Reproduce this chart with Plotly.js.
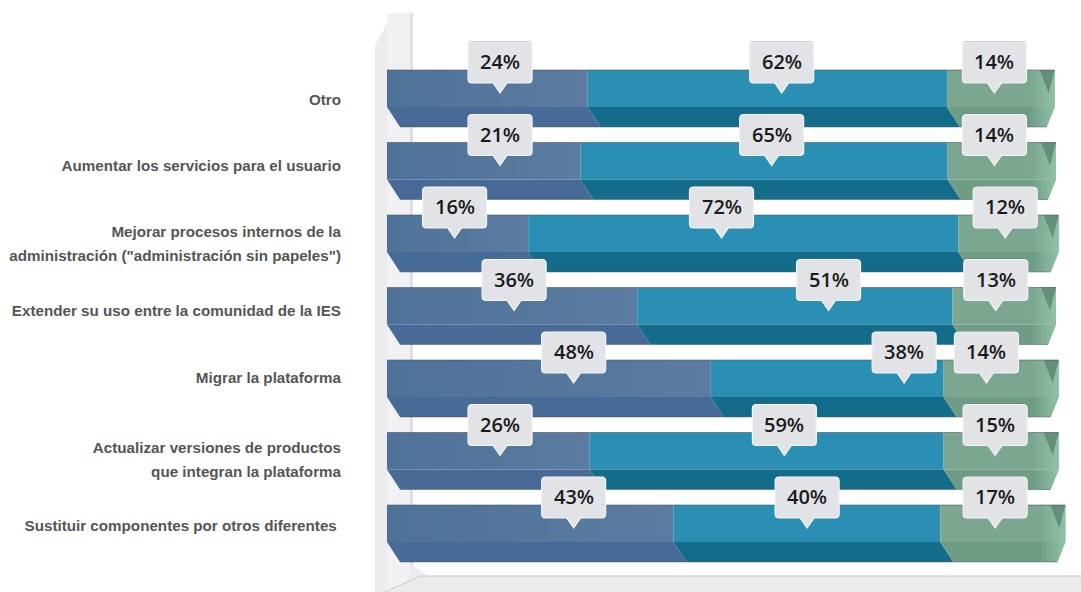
<!DOCTYPE html>
<html><head><meta charset="utf-8">
<script src="https://cdn.plot.ly/plotly-3.0.1.min.js"></script>
<style>html,body{margin:0;padding:0;background:#fff}#c{width:1081px;height:592px}</style></head>
<body><div id="c"></div>
<script>
const labelLines=["Otro","Aumentar los servicios para el usuario","Mejorar procesos internos de la","administración (\"administración sin papeles\")","Extender su uso entre la comunidad de la IES","Migrar la plataforma","Actualizar versiones de productos","que integran la plataforma","Sustituir componentes por otros diferentes\u00a0"];
const labelRows=[0.16,1.06,1.98,2.30,3.07,3.99,4.96,5.29,6.03];
const pctA=[24,21,16,36,48,26,43];
const pctB=[62,65,72,51,38,59,40];
const pctC=[14,14,12,13,14,15,17];
// Drawn lengths as seen in the picture (the original's pseudo-3D bars are not proportional to the labels)
const lenA=[30.0,28.9,21.1,37.4,48.4,30.3,42.8];
const lenB=[53.7,54.9,64.3,47.1,34.8,52.9,39.9];
const lenC=[16.1,16.2,15.0,15.5,17.2,17.2,18.7];
const calloutA=[16.9,16.9,10.1,19.0,27.9,16.9,27.9];
const calloutB=[59.0,57.5,50.0,66.0,77.3,59.4,62.8];
const calloutC=[90.8,90.8,92.4,91.0,89.6,90.9,90.9];

const PX=6.69, RY=72.5;            // pixels per axis unit
const faceH=37/RY, darkH=20/RY, slant=13/PX;
const colA='#4f7299',colB='#2a8fb3',colC='#7ba68f';
const darkA='#476a96',darkB='#146c8b',darkC='#6f9c84',capLight='#8fc2a6',capDark='#648f7b';
const rows=lenA.map((_,i)=>i);
function bar(name,base,len,color){return {type:'bar',orientation:'h',name,y:rows,x:len,base,width:faceH,marker:{color,line:{width:0}},hoverinfo:'skip'};}
const b2=lenA, b3=lenA.map((v,i)=>v+lenB[i]), ends=b3.map((v,i)=>v+lenC[i]);
const traces=[];
function poly(xs,ys,c,grad){
  const t={type:'scatter',mode:'lines',x:xs,y:ys,fill:'toself',line:{width:0},hoverinfo:'skip'};
  if(grad) t.fillgradient={type:'horizontal',colorscale:[[0,grad[0]],[1,grad[1]]]}; else t.fillcolor=c;
  traces.push(t);
}
const wx=v=>(v-387)/PX, wy=v=>(v-88.5)/RY;
const shapes=[],annotations=[];
// wall and floor lie beneath the traces
function bg(xs,ys,c,ln){
  shapes.push({type:'path',layer:'below',xref:'x',yref:'y',
    path:xs.map((v,i)=>(i?'L':'M')+wx(v)+','+wy(ys[i])).join(' ')+(ln?'':' Z'),
    fillcolor:ln?'rgba(0,0,0,0)':c,line:ln?{color:c,width:1}:{width:0}});
}
bg([375,375,393,413,413,428,1081,1081,375],[592,45,13,13,566,576,576,592,592],'#ececef');
bg([387,410,410,387],[592,592,13,13],'#f1f1f3');
bg([410,413,413,410],[566,566,13,13],'#e0e0e4');
bg([375,385,420,1081,1081,375],[592,592,577,577,592,592],'#ebebee');
bg([385,420,1081],[592,576,576],'#c9c9cd',true);
// lower faces with slanted corners
rows.forEach(i=>{
  const t=i+faceH/2, bt=t+darkH, e=ends[i];
  const seg=(a,b,c)=>poly([a,b,b+slant,a+slant,a],[t,t,bt,bt,t],c);
  seg(0,b2[i],darkA);
  seg(b2[i],b3[i],darkB);
  poly([b3[i],e,e-8/PX,b3[i]+slant,b3[i]],[t,t,bt,bt,t],darkC);
});
traces.push(bar('A',0,lenA,colA),bar('B',b2,lenB,colB),bar('C',b3,lenC,colC));
// soft shading on the faces, and the right caps
rows.forEach(i=>{
  const e=ends[i], top=i-faceH/2, t=i+faceH/2, bt=t+darkH;
  poly([0,b2[i],b2[i],0,0],[top,top,t,t,top],null,['rgba(255,255,255,0)','rgba(255,255,255,0.07)']);
  poly([e-26/PX,e,e,e-8/PX,e-24/PX,e-26/PX],[top,top,t,bt,bt,top],null,['rgba(143,194,166,0)',capLight]);
  poly([e-15/PX,e,e-6/PX,e-15/PX],[top,top,top+23/RY,top],capDark);
  traces.push({type:'scatter',mode:'lines',x:[0,e],y:[top,top],line:{color:'rgba(70,80,90,0.55)',width:1},hoverinfo:'skip'});
  traces.push({type:'scatter',mode:'lines',x:[slant,e-8/PX],y:[bt,bt],line:{color:'rgba(70,80,90,0.45)',width:1},hoverinfo:'skip'});
});
function callout(x,y,txt){
  const w=32,h=20.5,r=4,p=7,q=10;
  const path=(dy)=>`M${-w+r},${h+dy} Q${-w},${h+dy} ${-w},${h-r+dy} L${-w},${-h+r+dy} Q${-w},${-h+dy} ${-w+r},${-h+dy} L${-p},${-h+dy} L0,${-h-q+dy} L${p},${-h+dy} L${w-r},${-h+dy} Q${w},${-h+dy} ${w},${-h+r+dy} L${w},${h-r+dy} Q${w},${h+dy} ${w-r},${h+dy} Z`;
  const base={type:'path',xref:'x',yref:'y',xsizemode:'pixel',ysizemode:'pixel',xanchor:x,yanchor:y};
  shapes.push({...base,path:path(1),fillcolor:'rgba(110,110,115,0.55)',line:{width:0}});
  shapes.push({...base,path:path(0),fillcolor:'#e2e3e7',line:{color:'#f3f4f5',width:1.2}});
  annotations.push({x,y,xref:'x',yref:'y',yshift:1,text:txt,showarrow:false,font:{family:'Open Sans, sans-serif',size:20,color:'#1a1a1c',weight:600},xanchor:'center',yanchor:'middle'});
}
rows.forEach(i=>{
  const y=i+(62.5-88.5)/RY;
  callout(calloutA[i],y,pctA[i]+'%');
  callout(calloutB[i],y,pctB[i]+'%');
  callout(calloutC[i],y,pctC[i]+'%');
});
const layout={width:1081,height:592,margin:{l:345,r:0,t:0,b:0},paper_bgcolor:'#fff',plot_bgcolor:'rgba(0,0,0,0)',showlegend:false,barmode:'overlay',
  font:{family:'Liberation Sans, Arial, sans-serif'},
  xaxis:{range:[(345-387)/PX,(1081-387)/PX],visible:false,fixedrange:true},
  yaxis:{range:[(592-88.5)/RY,(0-88.5)/RY],tickmode:'array',tickvals:labelRows,ticktext:labelLines,ticks:'',showline:false,showgrid:false,zeroline:false,ticklabelstandoff:3,
    tickfont:{family:'Liberation Sans, Arial, sans-serif',size:15.2,color:'#555555',weight:700},fixedrange:true},
  shapes,annotations};
Plotly.newPlot('c',traces,layout,{displayModeBar:false,staticPlot:true});
</script></body></html>
